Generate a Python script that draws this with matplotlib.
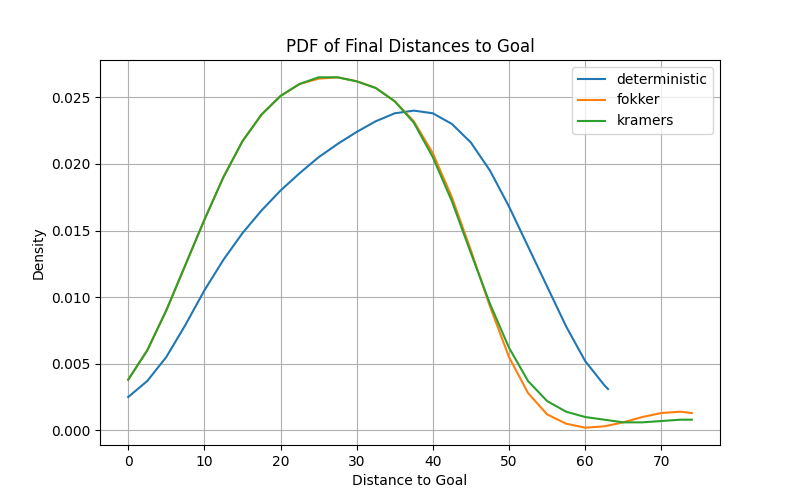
import numpy as np
import matplotlib
matplotlib.use("Agg")
import matplotlib.pyplot as plt

x_det = [0, 2.5, 5, 7.5, 10, 12.5, 15, 17.5, 20, 22.5, 25, 27.5, 30, 32.5, 35, 37.5,
         40, 42.5, 45, 47.5, 50, 52.5, 55, 57.5, 60, 62.5, 63]
y_det = [.0025, .0037, .0055, .0079, .0105, .0128, .0148, .0165, .0180, .0193, .0205,
         .0215, .0224, .0232, .0238, .0240, .0238, .0230, .0216, .0195, .0168, .0138,
         .0108, .0078, .0052, .0034, .0031]

x_fk = [0, 2.5, 5, 7.5, 10, 12.5, 15, 17.5, 20, 22.5, 25, 27.5, 30, 32.5, 35, 37.5,
        40, 42.5, 45, 47.5, 50, 52.5, 55, 57.5, 60, 62.5, 65, 67.5, 70, 72.5, 74]
y_fokker = [.0038, .0060, .0090, .0124, .0158, .0190, .0217, .0237, .0251, .0260, .0264,
            .0265, .0262, .0257, .0247, .0232, .0208, .0175, .0135, .0093, .0055, .0028,
            .0012, .0005, .0002, .0003, .0006, .0010, .0013, .0014, .0013]
y_kramers = [.0038, .0060, .0090, .0124, .0158, .0190, .0217, .0237, .0251, .0260, .0265,
             .0265, .0262, .0257, .0247, .0231, .0205, .0172, .0133, .0095, .0062, .0037,
             .0022, .0014, .0010, .0008, .0006, .0006, .0007, .0008, .0008]

fig, ax = plt.subplots(figsize=(8, 5), dpi=100)
ax.plot(x_det, y_det, label="deterministic")
ax.plot(x_fk, y_fokker, label="fokker")
ax.plot(x_fk, y_kramers, label="kramers")
ax.set_title("PDF of Final Distances to Goal")
ax.set_xlabel("Distance to Goal")
ax.set_ylabel("Density")
ax.set_ylim(-0.0011, 0.0278)
ax.grid(True)
ax.legend(loc="upper right")
fig.savefig("out.png")
